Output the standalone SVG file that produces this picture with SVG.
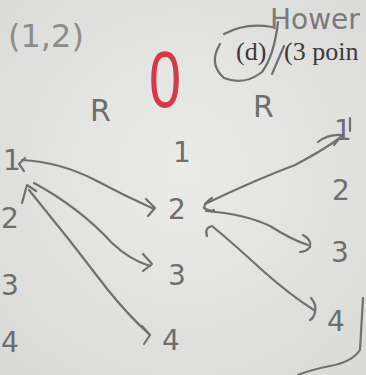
<svg xmlns="http://www.w3.org/2000/svg" width="366" height="375" viewBox="0 0 366 375">
<style>
.pen{fill:#6e6e6e;font-family:"DejaVu Sans",sans-serif;font-size:28px}
.ln{fill:none;stroke:#707070;stroke-width:2.2;stroke-linecap:round;stroke-linejoin:round}
.pr{font-family:"Liberation Serif",serif;font-size:26px;fill:#3a3a3a}
</style>
<defs>
<radialGradient id="bg" cx="0.5" cy="0.45" r="0.75">
<stop offset="0" stop-color="#ebebe9"/>
<stop offset="1" stop-color="#d9d9d7"/>
</radialGradient>
</defs>
<rect width="366" height="375" fill="url(#bg)"/>
<g id="header">
<text x="8" y="47" class="pen" style="font-size:32px;fill:#8c8c8c">(1,2)</text>
<text x="270" y="29" class="pen" style="font-size:28px;fill:#7a7a7a">Hower</text>
<text x="236" y="60" class="pr">(d)</text>
<text x="284" y="60" class="pr">(3 poin</text>
<path class="ln" d="M224,34 Q246,22 272,27"/>
<path class="ln" d="M220,44 Q208,64 224,78 Q244,86 262,72 Q274,56 278,22"/>
<path class="ln" d="M272,74 L284,46"/>
<text x="0" y="0" transform="translate(149,107) scale(0.72,1)" style="font-family:'Liberation Sans',sans-serif;font-size:80px;fill:#d23a46">0</text>
<text x="90" y="121" class="pen" style="font-size:30px">R</text>
<text x="253" y="117" class="pen" style="font-size:30px">R</text>
<path class="ln" d="M350,118 L350,131"/>
</g>
<g id="left-1"><text x="3" y="170" class="pen">1</text></g>
<g id="left-2"><text x="1" y="228" class="pen">2</text></g>
<g id="left-3"><text x="1" y="295" class="pen">3</text></g>
<g id="left-4"><text x="1" y="352" class="pen">4</text></g>
<g id="mid-1"><text x="173" y="162" class="pen">1</text></g>
<g id="mid-2"><text x="168" y="219" class="pen">2</text></g>
<g id="mid-3"><text x="168" y="285" class="pen">3</text></g>
<g id="mid-4"><text x="162" y="350" class="pen">4</text></g>
<g id="right-1"><text x="334" y="140" class="pen">1</text></g>
<g id="right-2"><text x="332" y="200" class="pen">2</text></g>
<g id="right-3"><text x="331" y="262" class="pen">3</text></g>
<g id="right-4"><text x="327" y="331" class="pen">4</text></g>
<g id="connectors">
<path class="ln" d="M25,158 L19,164 L24,171"/>
<path class="ln" d="M22,160 Q60,162 95,180 Q125,196 154,209"/>
<path class="ln" d="M146,199 L155,208 L148,216"/>
<path class="ln" d="M22,203 L27,185 L36,191"/>
<path class="ln" d="M34,183 Q80,208 112,243 Q130,260 150,266"/>
<path class="ln" d="M143,254 L152,264 L143,271"/>
<path class="ln" d="M29,190 Q70,240 108,290 Q128,315 150,335"/>
<path class="ln" d="M142,326 L150,335 L144,344"/>
<path class="ln" d="M212,198 Q205,202 204,208 Q210,212 214,210"/>
<path class="ln" d="M205,204 Q255,180 295,165 Q320,152 340,138"/>
<path class="ln" d="M318,142 Q328,134 342,135 L334,145"/>
<path class="ln" d="M206,211 Q245,214 270,226 Q292,240 308,245"/>
<path class="ln" d="M303,235 Q312,240 310,247 Q306,252 300,252"/>
<path class="ln" d="M207,236 Q204,228 212,226 Q235,245 262,270 Q290,295 314,310"/>
<path class="ln" d="M311,298 Q317,305 315,312 Q314,318 310,320"/>
<path class="ln" d="M363,298 L360,350 Q352,362 330,366 Q310,370 298,375"/>
</g>
</svg>
